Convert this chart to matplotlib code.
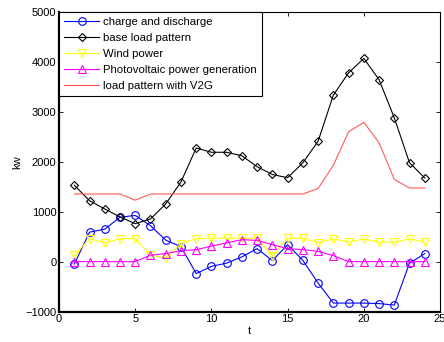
import numpy as np
import matplotlib.pyplot as plt

plt.rcParams['font.family'] = 'Liberation Sans'
plt.rcParams['font.size'] = 8

t = np.arange(1, 25)
charge = [-50, 590, 650, 890, 925, 720, 430, 300, -240, -95, -30, 95, 260, 20, 340,
          25, -430, -830, -830, -830, -840, -870, -30, 160]
base_load = [1530, 1220, 1055, 895, 760, 855, 1155, 1595, 2275, 2190, 2190, 2120, 1900,
             1745, 1680, 1980, 2410, 3335, 3780, 4070, 3645, 2880, 1980, 1675]
wind = [125, 460, 375, 460, 460, 130, 75, 360, 460, 470, 470, 470, 470, 120, 470,
        470, 380, 455, 390, 455, 390, 390, 455, 390]
pv = [0, 0, 0, 0, 0, 130, 160, 220, 240, 310, 375, 440, 425, 340, 260,
      240, 205, 120, 0, 0, 0, 0, 0, 0]
load_v2g = [1355, 1355, 1355, 1355, 1230, 1355, 1355, 1355, 1355, 1355, 1355, 1355, 1355,
            1355, 1355, 1355, 1465, 1930, 2600, 2790, 2380, 1645, 1475, 1475]

fig = plt.figure(figsize=(4.44, 3.42), dpi=100)
ax = fig.add_axes([0.133, 0.089, 0.858, 0.876])

lw = 0.8
ax.plot(t, charge, '-', c='b', marker='o', mfc='none', ms=5.5, lw=lw, mew=0.8,
        label='charge and discharge')
ax.plot(t, base_load, '-', c='k', marker='D', mfc='none', ms=4.3, lw=lw, mew=0.8,
        label='base load pattern')
ax.plot(t, wind, '-', c='#ffff00', marker='v', mfc='none', ms=6, lw=lw, mew=0.8,
        label='Wind power')
ax.plot(t, pv, '-', c='#ff00ff', marker='^', mfc='none', ms=6, lw=lw, mew=0.8,
        label='Photovoltaic power generation')
ax.plot(t, load_v2g, '-', c='#ff5a5a', lw=0.8, label='load pattern with V2G')

ax.set_xlim(0, 25)
ax.set_ylim(-1000, 5000)
ax.set_xticks([0, 5, 10, 15, 20, 25])
ax.set_yticks([-1000, 0, 1000, 2000, 3000, 4000, 5000])
ax.tick_params(direction='in', top=True, right=True, length=3, width=0.6, labelsize=8, pad=2)
ax.set_xlabel('t', labelpad=1)
ax.set_ylabel('kw', labelpad=2)

for s in ['left', 'bottom']:
    ax.spines[s].set_linewidth(1.6)
for s in ['top', 'right']:
    ax.spines[s].set_linewidth(0.8)

leg = ax.legend(loc='upper left', fontsize=8.2, handlelength=3.1, borderaxespad=0,
                fancybox=False, edgecolor='k', framealpha=1, labelspacing=0.52,
                handletextpad=0.35, borderpad=0.45)
leg.get_frame().set_linewidth(0.8)

plt.savefig('out.png', dpi=100)
